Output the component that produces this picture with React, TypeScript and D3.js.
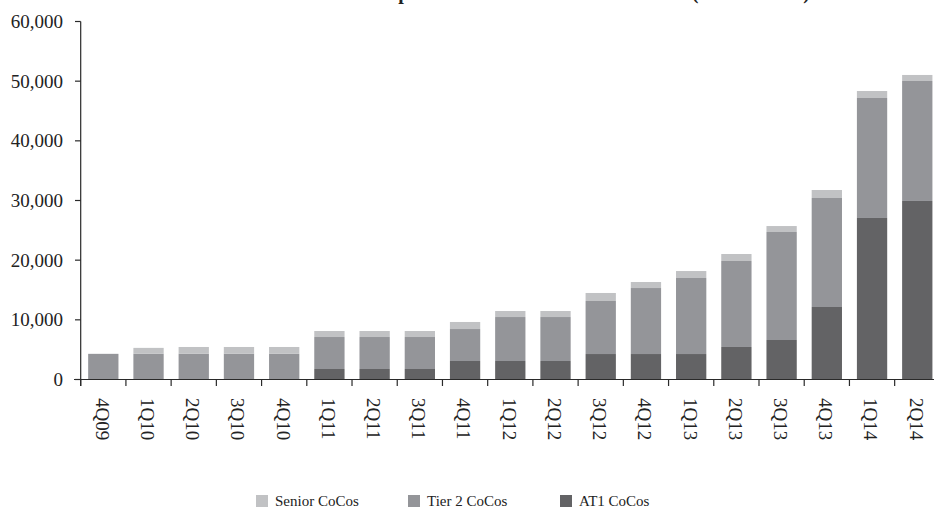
import React from "react";
import * as d3 from "d3";

const categories = ["4Q09","1Q10","2Q10","3Q10","4Q10","1Q11","2Q11","3Q11","4Q11","1Q12","2Q12","3Q12","4Q12","1Q13","2Q13","3Q13","4Q13","1Q14","2Q14"];
const at1 = [0,0,0,0,0,1760,1760,1760,3100,3100,3100,4270,4270,4270,5450,6620,12150,27070,29920];
const tier2 = [4300,4300,4300,4300,4300,5360,5360,5360,5360,7370,7370,8890,11060,12740,14410,18100,18270,20110,20110];
const senior = [0,1000,1150,1150,1150,1010,1010,1010,1180,1010,1010,1340,1010,1170,1170,1000,1340,1170,1010];
const yTicks = [0,10000,20000,30000,40000,50000,60000];
const seriesNames = ["AT1 CoCos","Tier 2 CoCos","Senior CoCos"];
const seriesColors = ["#636365","#949599","#c1c2c4"];
const legendOrder = ["Senior CoCos","Tier 2 CoCos","AT1 CoCos"];
const title = "Development of the Total CoCo Issuance (USD million)";

export default function App() {
  const W = 934, H = 507;
  const x0 = 80.7, step = 45.22;
  const x = d3.scaleBand<string>().domain(categories).range([x0, x0 + step * categories.length]).paddingInner(0.33).paddingOuter(0.165);
  const y = d3.scaleLinear().domain([0, 60000]).range([379.5, 21.5]);
  const rows = categories.map((c, i) => ({ c, "AT1 CoCos": at1[i], "Tier 2 CoCos": tier2[i], "Senior CoCos": senior[i] }));
  const stacked = d3.stack<any>().keys(seriesNames)(rows);
  const color = d3.scaleOrdinal<string, string>().domain(seriesNames).range(seriesColors);
  const fmt = d3.format(",");
  const font = "'Liberation Serif', 'Times New Roman', serif";
  const axisColor = "#2a2a2a";
  const boundaries = d3.range(categories.length + 1).map(i => x0 + i * x.step());
  const legendX = [256, 408, 560];

  return (
    <svg width={W} height={H} style={{ position: "absolute", left: 0, top: 0 }} fontFamily={font}>
      <text x={810} y={-1.5} textAnchor="end" fontSize={20} fontWeight="bold" fill="#222">{title}</text>
      {stacked.map(s => (
        <g key={s.key} fill={color(s.key)}>
          {s.map((d, i) => (
            <rect key={i} x={x(categories[i])} width={x.bandwidth()} y={y(d[1])} height={Math.max(0, y(d[0]) - y(d[1]))} />
          ))}
        </g>
      ))}
      <line x1={x0} x2={x0} y1={y(60000)} y2={386} stroke={axisColor} strokeWidth={1.2} />
      {yTicks.map(t => (
        <g key={t}>
          <line x1={75} x2={x0} y1={y(t)} y2={y(t)} stroke={axisColor} strokeWidth={1.2} />
          <text x={63} y={y(t)} dy="0.35em" textAnchor="end" fontSize={19} fill="#222">{fmt(t)}</text>
        </g>
      ))}
      <line x1={74} x2={W} y1={y(0)} y2={y(0)} stroke={axisColor} strokeWidth={1.2} />
      {boundaries.map((b, i) => (
        <line key={i} x1={b} x2={b} y1={y(0)} y2={386} stroke={axisColor} strokeWidth={1.2} />
      ))}
      {categories.map(c => (
        <text key={c} transform={`translate(${(x(c) as number) + x.bandwidth() / 2 - 1},398) rotate(90)`} dy="0.35em" fontSize={19} fill="#222">{c}</text>
      ))}
      {legendOrder.map((n, i) => (
        <g key={n}>
          <rect x={legendX[i]} y={495} width={12} height={12} fill={color(n)} />
          <text x={legendX[i] + 19} y={505.5} fontSize={15} fill="#222">{n}</text>
        </g>
      ))}
    </svg>
  );
}
